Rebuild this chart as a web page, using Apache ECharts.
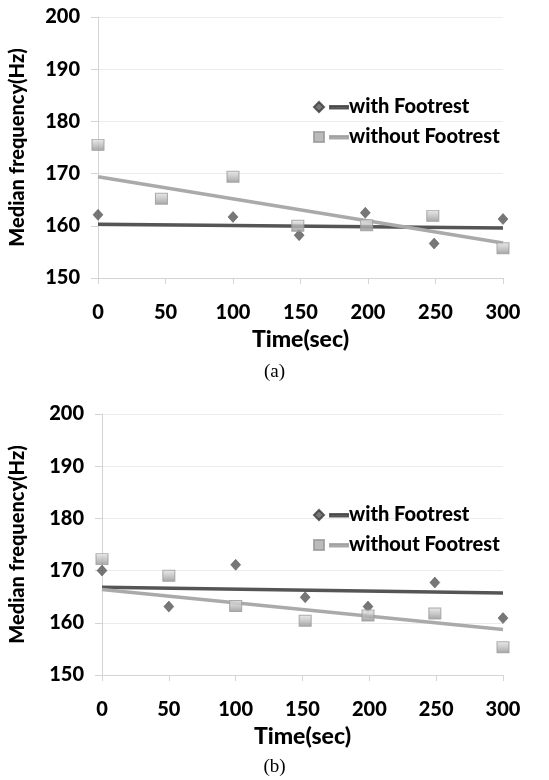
<!DOCTYPE html>
<html>
<head>
<meta charset="utf-8">
<script src="https://cdn.jsdelivr.net/npm/echarts@6/dist/echarts.min.js"></script>
<style>
  html, body { margin: 0; padding: 0; background: #fff; }
  #chart { width: 549px; height: 780px; }
</style>
</head>
<body>
<div id="chart"></div>
<script>
// Panel (a): median frequency over time
const timeWithA = [0, 100, 149, 198, 249, 300];
const freqWithA = [162.1, 161.7, 158.2, 162.5, 156.6, 161.3];
const timeWithoutA = [0, 47, 100, 148, 199, 248, 300];
const freqWithoutA = [175.5, 165.2, 169.4, 160.0, 160.1, 161.9, 155.7];
const trendWithA = [160.3, 159.6];
const trendWithoutA = [169.4, 156.7];

// Panel (b)
const timeWithB = [0, 50, 100, 152, 199, 249, 300];
const freqWithB = [170.0, 163.1, 171.1, 164.9, 163.1, 167.7, 160.9];
const timeWithoutB = [0, 50, 100, 152, 199, 249, 300];
const freqWithoutB = [172.2, 169.0, 163.2, 160.4, 161.4, 161.8, 155.3];
const trendWithB = [166.8, 165.7];
const trendWithoutB = [166.4, 158.7];

const trendX = [0, 300];
const seriesNames = ['with Footrest', 'without Footrest'];
const panelLabels = ['(a)', '(b)'];

const FONT = 'Lato, "Open Sans", sans-serif';
const WEIGHT = 900;
const DARK = '#555555';
const LIGHT = '#aaaaaa';

const squareFill = new echarts.graphic.LinearGradient(0, 0, 0, 1, [
  { offset: 0, color: '#e6e6e6' },
  { offset: 0.5, color: '#bdbdbd' },
  { offset: 1, color: '#8f8f8f' }
]);

const diamondIcon = 'path://M5,0 L10,5 L5,10 L0,5 Z M16,4 L34,4 L34,6.4 L16,6.4 Z';
const squareIcon = 'path://M0,0 L10,0 L10,10 L0,10 Z M16,4 L34,4 L34,6.4 L16,6.4 Z';

function pairs(xs, ys) { return xs.map((x, i) => [x, ys[i]]); }

const grids = [
  { left: 90, right: 46, top: 17, height: 261 },
  { left: 94, right: 46, top: 414, height: 261 }
];

function xAxis(gi) {
  return {
    type: 'value', gridIndex: gi, min: 0, max: 300, interval: 50,
    name: 'Time(sec)', nameLocation: 'middle', nameGap: 50,
    nameTextStyle: { fontFamily: FONT, fontWeight: WEIGHT, fontSize: 23, color: '#000' },
    axisLine: { show: true, lineStyle: { color: '#d4d4d4', width: 1 } },
    axisTick: { show: true, length: 6, lineStyle: { color: '#d4d4d4' } },
    axisLabel: { margin: 25, fontFamily: FONT, fontWeight: WEIGHT, fontSize: 20, color: '#000' },
    splitLine: { show: false }
  };
}
function yAxis(gi, gap) {
  return {
    type: 'value', gridIndex: gi, min: 150, max: 200, interval: 10,
    name: 'Median frequency(Hz)', nameLocation: 'middle', nameGap: gap, nameRotate: 90,
    nameTextStyle: { fontFamily: FONT, fontWeight: WEIGHT, fontSize: 20, color: '#000' },
    axisLine: { show: true, onZero: false, lineStyle: { color: '#d4d4d4', width: 1 } },
    axisTick: { show: true, length: 7, lineStyle: { color: '#d4d4d4' } },
    axisLabel: { margin: 18, fontFamily: FONT, fontWeight: WEIGHT, fontSize: 20, color: '#000' },
    splitLine: { show: true, lineStyle: { color: '#ececec', width: 1 } }
  };
}

function scatterWith(gi, xs, ys) {
  return {
    name: seriesNames[0], type: 'scatter', xAxisIndex: gi, yAxisIndex: gi,
    symbol: 'diamond', symbolSize: [10, 11], z: 5,
    itemStyle: { color: DARK, borderColor: '#3a3a3a', borderWidth: 0.5 },
    data: pairs(xs, ys)
  };
}
function scatterWithout(gi, xs, ys) {
  return {
    name: seriesNames[1], type: 'scatter', xAxisIndex: gi, yAxisIndex: gi,
    symbol: 'rect', symbolSize: [12, 11], z: 5,
    itemStyle: { color: squareFill, borderColor: '#9a9a9a', borderWidth: 1 },
    data: pairs(xs, ys)
  };
}
function trend(gi, ys, color, name) {
  return {
    name: name, type: 'line', xAxisIndex: gi, yAxisIndex: gi,
    symbol: 'none', silent: true, z: 3,
    lineStyle: { color: color, width: 3.5 },
    data: pairs(trendX, ys)
  };
}

function legend(top) {
  return {
    data: [
      { name: seriesNames[0], icon: diamondIcon, itemStyle: { color: DARK } },
      { name: seriesNames[1], icon: squareIcon, itemStyle: { color: LIGHT } }
    ],
    orient: 'vertical', left: 308, top: top,
    itemWidth: 34, itemHeight: 10, itemGap: 10,
    textStyle: { fontFamily: FONT, fontWeight: WEIGHT, fontSize: 20, color: '#000', padding: [0, 0, 0, -4] }
  };
}

const chart = echarts.init(document.getElementById('chart'), null, { renderer: 'canvas' });
chart.setOption({
  backgroundColor: '#fff',
  animation: false,
  title: [
    { text: panelLabels[0], left: 'center', top: 358, textStyle: { fontFamily: '"Liberation Serif", serif', fontWeight: 'normal', fontSize: 19, color: '#000' } },
    { text: panelLabels[1], left: 'center', top: 753, textStyle: { fontFamily: '"Liberation Serif", serif', fontWeight: 'normal', fontSize: 19, color: '#000' } }
  ],
  grid: grids,
  xAxis: [xAxis(0), xAxis(1)],
  yAxis: [yAxis(0, 70), yAxis(1, 74)],
  legend: [legend(92), legend(500)],
  series: [
    trend(0, trendWithA, DARK, 'with Footrest trend (a)'),
    trend(0, trendWithoutA, LIGHT, 'without Footrest trend (a)'),
    scatterWith(0, timeWithA, freqWithA),
    scatterWithout(0, timeWithoutA, freqWithoutA),
    trend(1, trendWithB, DARK, 'with Footrest trend (b)'),
    trend(1, trendWithoutB, LIGHT, 'without Footrest trend (b)'),
    scatterWith(1, timeWithB, freqWithB),
    scatterWithout(1, timeWithoutB, freqWithoutB)
  ]
});
</script>
</body>
</html>
